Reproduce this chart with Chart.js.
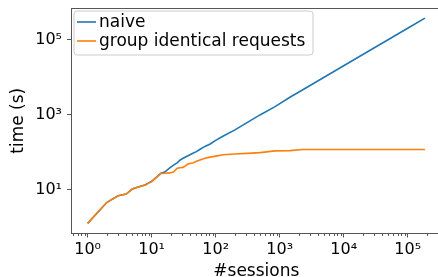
<!DOCTYPE html>
<html><head><meta charset="utf-8">
<script src="https://cdn.jsdelivr.net/npm/chart.js@4.4.0/dist/chart.umd.min.js"></script>
<style>html,body{margin:0;padding:0;overflow:hidden;background:#fff}#wrap{width:446px;height:277px}</style>
</head><body><div id="wrap"><canvas id="c" width="446" height="277"></canvas></div>
<script>
const sessions    = [1, 2, 3, 4, 5, 6, 8, 9, 10, 14, 16, 19, 22, 25, 28, 31, 37, 45, 50, 57, 68, 82, 100, 132, 200, 365, 493, 846, 1446, 2300, 10000, 100000, 186000];
const naiveTime   = [1.29, 4.7, 7.0, 7.8, 10.6, 11.8, 13.8, 15.5, 17, 27.9, 30, 38, 46, 53, 63, 70, 82, 97, 105, 122, 145, 168, 210, 275, 400, 740, 1000, 1670, 2950, 4700, 20500, 205000, 380000];
const groupedTime = [1.29, 4.7, 7.0, 7.8, 10.6, 11.8, 13.5, 15.2, 16.6, 27.5, 28, 28.5, 30, 38, 39, 40, 49, 53, 58, 63, 70, 75, 80, 87, 91, 96, 99, 110, 112, 120, 120, 120, 120];
const seriesLabels = ['naive', 'group identical requests'];
const seriesColors = ['#1f77b4', '#ff7f0e'];
const xTickValues = [1, 10, 100, 1000, 10000, 100000];
const yTickValues = [10, 1000, 100000];

const SUP = {'0':'⁰','1':'¹','2':'²','3':'³','4':'⁴','5':'⁵','6':'⁶','7':'⁷','8':'⁸','9':'⁹','-':'⁻'};
function powLabel(v){
  const e = Math.round(Math.log10(v));
  return '10' + String(e).split('').map(c => SUP[c]).join('');
}
Chart.defaults.font.family = "'DejaVu Sans', sans-serif";
Chart.defaults.color = '#000';
const AX = '#555';

const extras = {
  id: 'extras',
  afterDraw(chart) {
    const ctx = chart.ctx, a = chart.chartArea, xs = chart.scales.x;
    ctx.save();
    ctx.strokeStyle = AX; ctx.lineWidth = 1;
    ctx.beginPath();
    ctx.moveTo(a.left, a.top + 0.5); ctx.lineTo(a.right, a.top + 0.5);
    ctx.moveTo(a.right - 0.5, a.top); ctx.lineTo(a.right - 0.5, a.bottom);
    ctx.stroke();
    ctx.beginPath();
    for (let n = -1; n <= 5; n++) {
      for (let k = 2; k <= 9; k++) {
        const v = k * Math.pow(10, n);
        if (v < xs.min || v > xs.max) continue;
        const px = Math.round(xs.getPixelForValue(v)) + 0.5;
        ctx.moveTo(px, a.bottom); ctx.lineTo(px, a.bottom + 2.5);
      }
    }
    ctx.stroke();
    const bx = 74, by = 11, bw = 239, bh = 44, r = 3;
    ctx.beginPath();
    ctx.moveTo(bx + r, by); ctx.lineTo(bx + bw - r, by); ctx.quadraticCurveTo(bx + bw, by, bx + bw, by + r);
    ctx.lineTo(bx + bw, by + bh - r); ctx.quadraticCurveTo(bx + bw, by + bh, bx + bw - r, by + bh);
    ctx.lineTo(bx + r, by + bh); ctx.quadraticCurveTo(bx, by + bh, bx, by + bh - r);
    ctx.lineTo(bx, by + r); ctx.quadraticCurveTo(bx, by, bx + r, by);
    ctx.closePath();
    ctx.fillStyle = 'rgba(255,255,255,0.8)'; ctx.fill();
    ctx.strokeStyle = '#cccccc'; ctx.lineWidth = 1; ctx.stroke();
    ctx.font = "17px 'DejaVu Sans'";
    ctx.textBaseline = 'middle'; ctx.textAlign = 'left';
    chart.data.datasets.forEach((ds, i) => {
      const y = 22 + i * 19;
      ctx.strokeStyle = ds.borderColor; ctx.lineWidth = 1.6;
      ctx.beginPath(); ctx.moveTo(77, y); ctx.lineTo(96, y); ctx.stroke();
      ctx.fillStyle = '#000';
      ctx.fillText(ds.label, 99, y + 1);
    });
    ctx.restore();
  }
};

new Chart(document.getElementById('c'), {
  type: 'line',
  data: {
    datasets: [
      { label: seriesLabels[0], order: 1, data: sessions.map((x, i) => ({x, y: naiveTime[i]})), borderColor: seriesColors[0], borderWidth: 1.6, pointRadius: 0, tension: 0, fill: false },
      { label: seriesLabels[1], order: 0, data: sessions.map((x, i) => ({x, y: groupedTime[i]})), borderColor: seriesColors[1], borderWidth: 1.6, pointRadius: 0, tension: 0, fill: false }
    ]
  },
  options: {
    responsive: false, animation: false, devicePixelRatio: 1,
    layout: { padding: { left: 0, top: 8, right: 4.4, bottom: 0 } },
    plugins: { legend: { display: false }, tooltip: { enabled: false } },
    scales: {
      x: {
        type: 'logarithmic', min: Math.pow(10, -0.26), max: Math.pow(10, 5.53),
        afterBuildTicks: s => { s.ticks = xTickValues.map(v => ({value: v, major: true})); },
        afterFit: s => { s.height = 43.5; s.paddingLeft = 0; s.paddingRight = 0; },
        ticks: { callback: v => powLabel(v), autoSkip: false, maxRotation: 0, padding: 3, font: { size: 16 }, color: '#000' },
        grid: { drawOnChartArea: false, drawTicks: true, tickLength: 4, tickColor: AX, tickWidth: 1 },
        border: { display: true, color: AX, width: 1 },
        title: { display: true, text: '#sessions', font: { size: 17, lineHeight: 0.65 }, padding: { top: 0, bottom: 0 }, color: '#000' }
      },
      y: {
        type: 'logarithmic', min: Math.pow(10, -0.16), max: Math.pow(10, 5.85),
        afterBuildTicks: s => { s.ticks = yTickValues.map(v => ({value: v, major: true})); },
        afterFit: s => { s.width = 71; s.paddingTop = 0; s.paddingBottom = 0; },
        ticks: { callback: v => powLabel(v), autoSkip: false, padding: 5, font: { size: 16 }, color: '#000' },
        grid: { drawOnChartArea: false, drawTicks: true, tickLength: 4, tickColor: AX, tickWidth: 1 },
        border: { display: true, color: AX, width: 1 },
        title: { display: true, text: 'time (s)', font: { size: 17 }, padding: { top: 8, bottom: 0 }, color: '#000' }
      }
    }
  },
  plugins: [extras]
});
</script>
</body></html>
